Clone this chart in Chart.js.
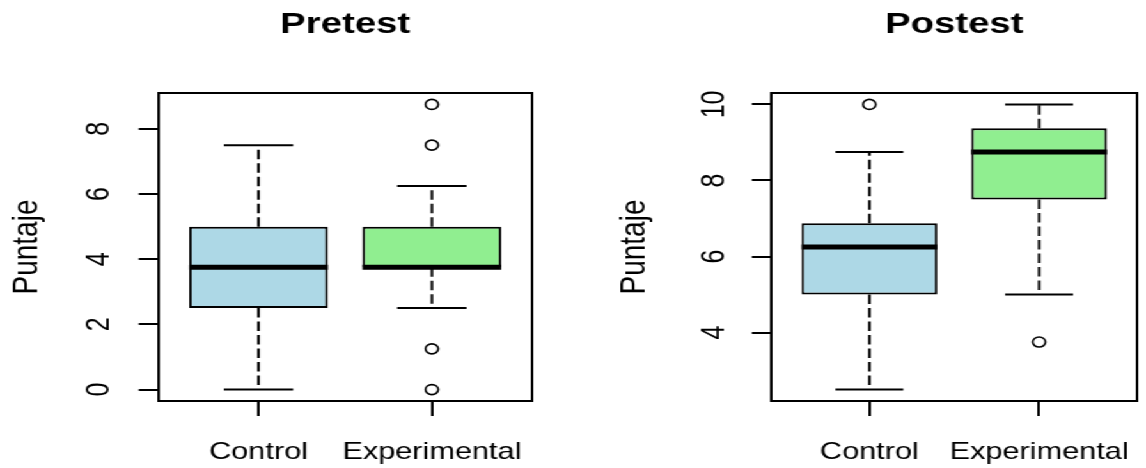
<!DOCTYPE html>
<html>
<head>
<meta charset="utf-8">
<script src="https://cdn.jsdelivr.net/npm/chart.js@4.4.1/dist/chart.umd.min.js"></script>
<style>
  html, body { margin: 0; padding: 0; background: #ffffff; overflow: hidden; }
  #wrap { position: absolute; left: 0; top: 0; width: 896px; height: 468px;
          transform: scaleX(1.279); transform-origin: 0 0; }
  #wrap canvas { position: absolute; top: 0; }
  #pre { left: 0; }
  #post { left: 448px; }
</style>
</head>
<body>
<div id="wrap">
  <canvas id="pre" width="448" height="468"></canvas>
  <canvas id="post" width="448" height="468"></canvas>
</div>
<script>
// ---------- data ----------
const CATEGORIES = ['Control', 'Experimental'];

// Pretest five-number summaries and outliers
const PRE_MIN      = [0, 2.5];
const PRE_Q1       = [2.5, 3.75];
const PRE_MEDIAN   = [3.75, 3.75];
const PRE_Q3       = [5, 5];
const PRE_MAX      = [7.5, 6.25];
const PRE_OUTLIERS = [[], [8.75, 7.5, 1.25, 0]];
const PRE_TICKS    = [0, 2, 4, 6, 8];

// Postest five-number summaries and outliers
const POST_MIN      = [2.5, 5];
const POST_Q1       = [5, 7.5];
const POST_MEDIAN   = [6.25, 8.75];
const POST_Q3       = [6.875, 9.375];
const POST_MAX      = [8.75, 10];
const POST_OUTLIERS = [[10], [3.75]];
const POST_TICKS    = [4, 6, 8, 10];

// ---------- style ----------
const BOX_COLORS = ['#ADD8E6', '#90EE90'];
const FONT = "'Liberation Sans', Arial, sans-serif";
Chart.defaults.font.family = FONT;
Chart.defaults.color = '#000';
const LW = 2;

function extend(lo, hi) { const d = (hi - lo) * 0.04; return [lo - d, hi + d]; }

function buildPanel(id, titleText, s, yTicks, geo) {
  const pos = CATEGORIES.map((_, i) => i + 1);
  const all = [].concat(s.min, s.max, ...s.out);
  const [yMin, yMax] = extend(Math.min(...all), Math.max(...all));
  const [xMin, xMax] = extend(0.5, CATEGORIES.length + 0.5);
  const HALF_BOX = 0.4, HALF_CAP = 0.2;
  const gap = x => ({ x: x, y: null });

  const boxData = pos.map((x, i) => ({ x: x, y: [s.q1[i], s.q3[i]] }));
  const medData = pos.flatMap((x, i) => [
    { x: x - HALF_BOX, y: s.med[i] }, { x: x + HALF_BOX, y: s.med[i] }, gap(x + 0.5)]);
  const whiskData = pos.flatMap((x, i) => [
    { x: x, y: s.q3[i] }, { x: x, y: s.max[i] }, gap(x),
    { x: x, y: s.q1[i] }, { x: x, y: s.min[i] }, gap(x)]);
  const capData = pos.flatMap((x, i) => [
    { x: x - HALF_CAP, y: s.max[i] }, { x: x + HALF_CAP, y: s.max[i] }, gap(x),
    { x: x - HALF_CAP, y: s.min[i] }, { x: x + HALF_CAP, y: s.min[i] }, gap(x)]);
  const outData = pos.flatMap((x, i) => s.out[i].map(v => ({ x: x, y: v })));

  const lineBase = { type: 'line', xAxisID: 'x', yAxisID: 'y', borderColor: '#000',
    pointRadius: 0, pointHoverRadius: 0, fill: false, tension: 0, spanGaps: false,
    borderCapStyle: 'butt' };

  const frameAxis = (position) => ({
    type: 'linear', position: position, min: 0, max: 1, display: true,
    ticks: { display: false },
    grid: { display: true, drawOnChartArea: false, drawTicks: false, color: '#000', lineWidth: LW },
    border: { display: true, color: '#000', width: LW },
    afterFit: a => { if (position === 'top') a.height = 0; else a.width = 0; }
  });

  new Chart(document.getElementById(id), {
    type: 'scatter',
    data: {
      datasets: [
        { type: 'bar', xAxisID: 'x', yAxisID: 'y', data: boxData,
          backgroundColor: BOX_COLORS, borderColor: '#000', borderWidth: LW,
          borderSkipped: false, categoryPercentage: 0.8, barPercentage: 1, order: 5 },
        Object.assign({}, lineBase, { data: whiskData, borderWidth: LW, borderDash: [9.5, 4], order: 4 }),
        Object.assign({}, lineBase, { data: capData, borderWidth: LW, order: 3 }),
        Object.assign({}, lineBase, { data: medData, borderWidth: 5, order: 1 }),
        { type: 'scatter', xAxisID: 'x', yAxisID: 'y', data: outData, showLine: false,
          pointStyle: 'circle', pointRadius: 5, pointHoverRadius: 5, pointBorderWidth: 1.6,
          pointBackgroundColor: 'rgba(0,0,0,0)', pointBorderColor: '#000', order: 0 }
      ]
    },
    options: {
      responsive: false,
      animation: false,
      events: [],
      layout: { padding: { left: 0, top: 0, bottom: 0, right: geo.padRight } },
      plugins: {
        legend: { display: false },
        tooltip: { enabled: false },
        title: { display: true, text: titleText, fullSize: false, color: '#000',
          font: { family: FONT, size: 30, weight: 'bold', lineHeight: 1.2 },
          padding: { top: 7, bottom: 50 } }
      },
      scales: {
        x: {
          type: 'linear', position: 'bottom', min: xMin, max: xMax, offset: false,
          afterBuildTicks: a => { a.ticks = pos.map(v => ({ value: v })); },
          ticks: { callback: v => CATEGORIES[v - 1], autoSkip: false, maxRotation: 0, minRotation: 0,
            padding: 0, color: '#000', font: { family: FONT, size: 24, lineHeight: '72px' } },
          grid: { display: true, offset: false, drawOnChartArea: false, drawTicks: true,
            tickLength: 15, color: '#000', lineWidth: LW },
          border: { display: true, color: '#000', width: LW },
          afterFit: a => { a.height = 67; }
        },
        y: {
          type: 'linear', position: 'left', min: yMin, max: yMax,
          afterBuildTicks: a => { a.ticks = yTicks.map(v => ({ value: v })); },
          ticks: { minRotation: 90, maxRotation: 90, crossAlign: 'center', padding: geo.yTickPad,
            color: '#000', font: { family: FONT, size: 25 } },
          grid: { display: true, drawOnChartArea: false, drawTicks: true,
            tickLength: 15, color: '#000', lineWidth: LW },
          border: { display: true, color: '#000', width: LW },
          title: { display: true, text: 'Puntaje', color: '#000',
            font: { family: FONT, size: 28, lineHeight: 1.2 },
            padding: { top: geo.yTitlePad, bottom: 0 } },
          afterFit: a => { a.width = geo.yWidth; }
        },
        x2: frameAxis('top'),
        y2: frameAxis('right')
      }
    }
  });
}

buildPanel('pre', 'Pretest',
  { min: PRE_MIN, q1: PRE_Q1, med: PRE_MEDIAN, q3: PRE_Q3, max: PRE_MAX, out: PRE_OUTLIERS },
  PRE_TICKS, { padRight: 31.7, yWidth: 123.5, yTickPad: 23.3, yTitlePad: 4 });

buildPanel('post', 'Postest',
  { min: POST_MIN, q1: POST_Q1, med: POST_MEDIAN, q3: POST_Q3, max: POST_MAX, out: POST_OUTLIERS },
  POST_TICKS, { padRight: 0.8, yWidth: 154.8, yTickPad: 14.3, yTitlePad: 31.7 });
</script>
</body>
</html>
